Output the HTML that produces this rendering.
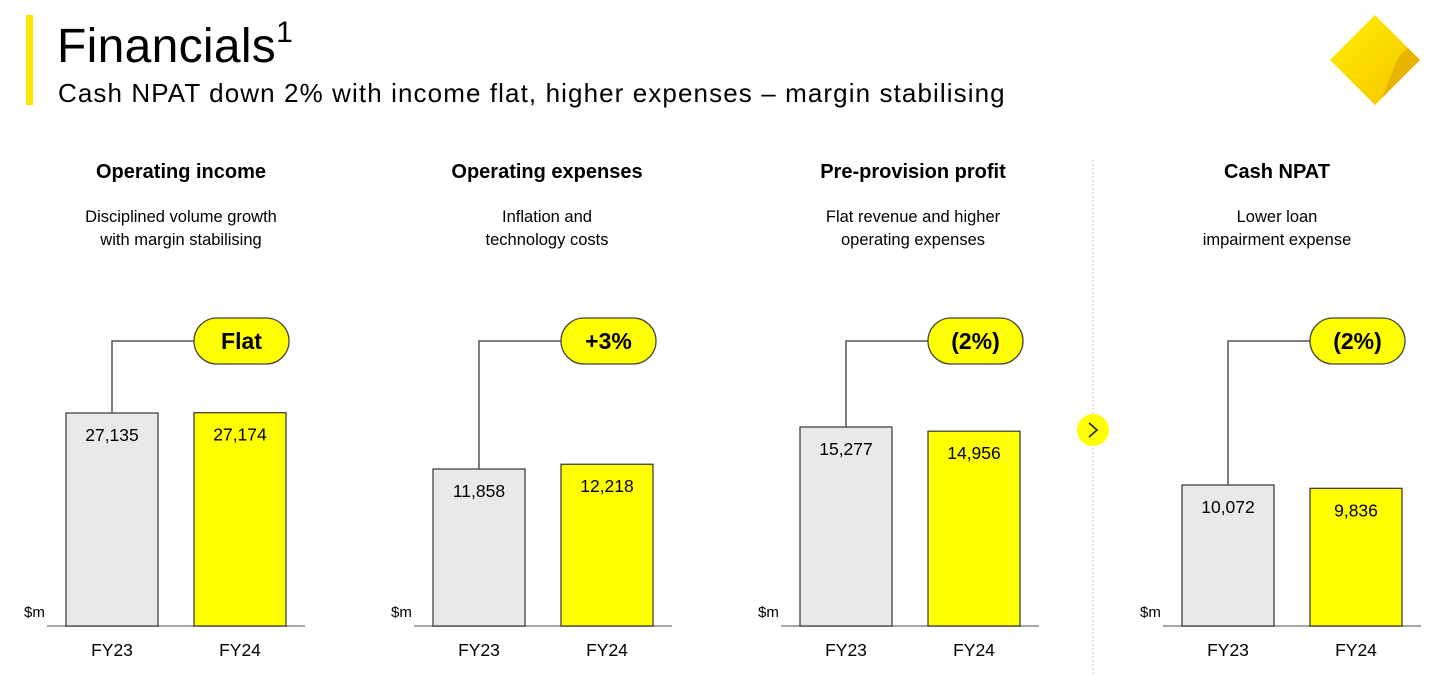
<!DOCTYPE html>
<html><head><meta charset="utf-8"><style>
body{margin:0;background:#fff;width:1441px;height:676px;overflow:hidden;font-family:"Liberation Sans",Arial,sans-serif}
svg{display:block}
</style></head><body>
<svg id="chart" width="1441" height="676" viewBox="0 0 1441 676">
  <rect x="26" y="15" width="7" height="90" fill="#ffe600"/>
  <text x="57" y="62" font-size="48" letter-spacing="0.3" fill="#000">Financials<tspan font-size="30" dy="-20">1</tspan></text>
  <text x="58" y="102" font-size="26" letter-spacing="1.1" fill="#000">Cash NPAT down 2% with income flat, higher expenses – margin stabilising</text>
  <g>
    <defs><linearGradient id="lg" x1="0" y1="0" x2="1" y2="1"><stop offset="0" stop-color="#fff200"/><stop offset="1" stop-color="#f5c000"/></linearGradient></defs>
    <polygon points="1375,15 1420,60 1375,105 1330,60" fill="url(#lg)"/>
    <path d="M1408,48 Q1398,55 1394,68 L1382,98 L1420,60 Z" fill="#e0a800" opacity="0.7"/>
  </g>
  <line x1="1093" y1="160" x2="1093" y2="676" stroke="#ccc" stroke-dasharray="2,2"/>
  <g>
    <circle cx="1093" cy="430" r="16" fill="#ffff00"/>
    <polyline points="1089,423 1097,430 1089,437" fill="none" stroke="#222" stroke-width="1.6"/>
  </g>
  <g id="panels"></g>
</svg>
<script>
const titles = ["Operating income","Operating expenses","Pre-provision profit","Cash NPAT"];
const sub1 = ["Disciplined volume growth","Inflation and","Flat revenue and higher","Lower loan"];
const sub2 = ["with margin stabilising","technology costs","operating expenses","impairment expense"];
const categories = ["FY23","FY24"];
const fy23 = [27135, 11858, 15277, 10072];
const fy24 = [27174, 12218, 14956, 9836];
const changes = ["Flat","+3%","(2%)","(2%)"];
const domainMax = [28790, 17070, 17350, 16144];

const NS = "http://www.w3.org/2000/svg";
const root = document.getElementById("panels");
const panelX = [66, 433, 800, 1182];
const titleCX = [181, 547, 913, 1277];
const baseY = 626, plotH = 226, barW = 92, gap = 128;
function mk(tag, attrs, parent){const e=document.createElementNS(NS,tag);for(const k in attrs)e.setAttribute(k,attrs[k]);parent.appendChild(e);return e;}
function yScale(v,i){return baseY - v/domainMax[i]*plotH;}
function fmt(v){return v.toLocaleString("en-US");}

titles.forEach((t,i)=>{
  const x0 = panelX[i];
  const g = mk("g",{},root);
  
  
  const cx = titleCX[i];
  const tt = mk("text",{x:cx,y:178,"font-size":20,"font-weight":"bold","text-anchor":"middle"},g);
  tt.textContent = t;
  
  
  [sub1[i],sub2[i]].forEach((s,j)=>{
    const st = mk("text",{x:cx,y:222+j*23,"font-size":16.5,"text-anchor":"middle"},g);
    st.textContent = s;
    
    
  });
  const ax = mk("line",{x1:x0-19,y1:baseY,x2:x0+239,y2:baseY,stroke:"#888","stroke-width":1.5},g);
  
  
  const um = mk("text",{x:x0-42,y:617,"font-size":15},g);
  um.textContent = "$m";
  
  
  const vals = [fy23[i], fy24[i]];
  vals.forEach((v,k)=>{
    const bx = x0 + k*gap, by = yScale(v,i);
    const b = mk("rect",{x:bx,y:by,width:barW,height:baseY-by,fill:k?"#ffff00":"#e9e9e9",stroke:"#333","stroke-width":1.2},g);
    
    
    const vl = mk("text",{x:bx+barW/2,y:by+28,"font-size":17.5,"text-anchor":"middle"},g);
    vl.textContent = fmt(v);
    
    
    const cl = mk("text",{x:bx+barW/2,y:656,"font-size":17.5,"text-anchor":"middle"},g);
    cl.textContent = categories[k];
    
    
  });
  const pillX = x0 + gap, pillY = 318;
  const con = mk("polyline",{points:`${x0+barW/2},${yScale(vals[0],i)} ${x0+barW/2},341 ${pillX},341`,fill:"none",stroke:"#555","stroke-width":1.5},g);
  
  
  const pill = mk("rect",{x:pillX,y:pillY,width:95,height:46,rx:23,fill:"#ffff00",stroke:"#444","stroke-width":1.3},g);
  
  
  const pt = mk("text",{x:pillX+47.5,y:349,"font-size":23,"font-weight":"bold","text-anchor":"middle"},g);
  pt.textContent = changes[i];
  
  
});
</script>
</body></html>
